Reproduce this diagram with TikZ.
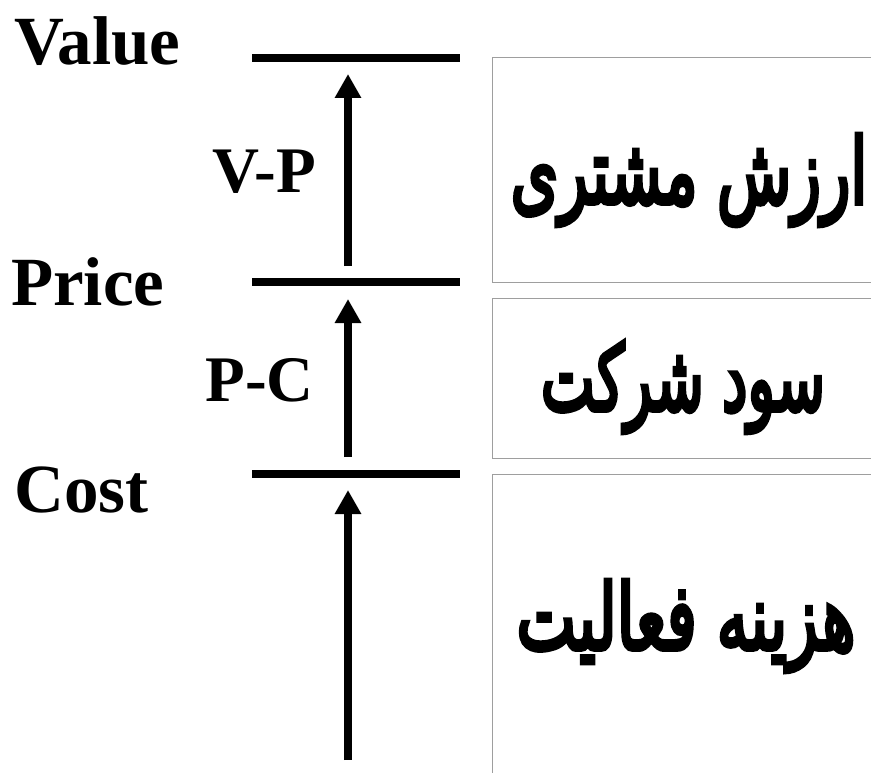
\documentclass[tikz,border=0pt]{standalone}
\usepackage{graphicx}
\usepackage{fontspec}
\setmainfont{Liberation Serif}
\newfontfamily\arabicfont[Script=Arabic,FakeBold=5]{DejaVu Sans}
\TeXXeTstate=1
\usetikzlibrary{arrows.meta}
\begin{document}
\begin{tikzpicture}[x=1pt,y=-1pt,
  lbl/.style={anchor=base west,inner sep=0pt,font=\fontsize{69}{69}\selectfont\bfseries},
  dif/.style={anchor=base east,inner sep=0pt,font=\fontsize{65}{65}\selectfont\bfseries},
  fa/.style={inner sep=0pt,font=\fontsize{54}{60}\selectfont\arabicfont},
  level/.style={line width=7.5pt},
  uparrow/.style={line width=8pt,-{Triangle[width=25pt,length=24pt]}},
  gbox/.style={draw=black!38,line width=1pt}]
\useasboundingbox (0,0) rectangle (871,773);
% labels
\node[lbl] (value) at (14,65) {Value};
\node[lbl] (price) at (11,305) {Price};
\node[lbl] (cost) at (14,512) {Cost};
\node[dif] (vp) at (316,193) {V-P};
\node[dif] (pc) at (314,401) {P-C};
% level lines
\coordinate (v1) at (252,58);  \coordinate (v2) at (460,58);
\coordinate (p1) at (252,282); \coordinate (p2) at (460,282);
\coordinate (c1) at (252,474); \coordinate (c2) at (460,474);
\draw[level] (v1) -- (v2);
\draw[level] (p1) -- (p2);
\draw[level] (c1) -- (c2);
% arrows
\coordinate (a1s) at (348,266); \coordinate (a1e) at (348,74);
\coordinate (a2s) at (348,457); \coordinate (a2e) at (348,299);
\coordinate (a3s) at (348,760); \coordinate (a3e) at (348,490);
\draw[uparrow] (a1s) -- (a1e);
\draw[uparrow] (a2s) -- (a2e);
\draw[uparrow] (a3s) -- (a3e);
% boxes
\draw[gbox] (880,58) -- (492,58) -- (492,282) -- (880,282);
\draw[gbox] (880,298) -- (492,298) -- (492,458) -- (880,458);
\draw[gbox] (880,474) -- (492,474) -- (492,790);
% persian text
\node[fa] (t1) at (689,180) {\scalebox{1.13}[1.7]{\beginR ارزش مشتری\endR}};
\node[fa] (t2) at (683,387) {\scalebox{1.06}[1.7]{\beginR سود شرکت\endR}};
\node[fa] (t3) at (686,626) {\scalebox{1.17}[1.7]{\beginR هزینه فعالیت\endR}};
\end{tikzpicture}
\end{document}
